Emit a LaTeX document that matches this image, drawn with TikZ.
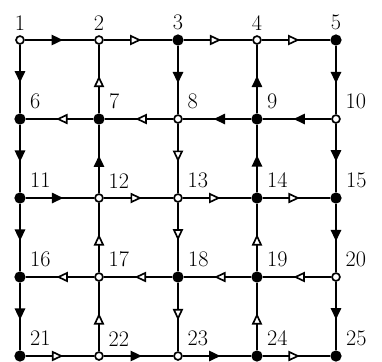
\documentclass[tikz,border=0pt]{standalone}
\usetikzlibrary{arrows.meta,decorations.markings}
\tikzset{
  blackdot/.style={circle, draw=black, fill=black, line width=1.2pt, inner sep=0pt, minimum size=2.4mm},
  whitedot/.style={blackdot, fill=white, minimum size=2mm},
  num/.style={font=\fontsize{16}{18}\selectfont},
  full/.style={line width=1.5pt, postaction={decorate}, decoration={markings, mark=at position 0.55 with {\arrow{Triangle[length=2.9mm,width=2.6mm]}}}},
  hollow/.style={line width=1.5pt, postaction={decorate}, decoration={markings, mark=at position 0.55 with {\arrow{Triangle[open,fill=white,line width=1.2pt,length=2.9mm,width=2.6mm]}}}}
}
\begin{document}
\begin{tikzpicture}
\useasboundingbox (-0.506,1.013) rectangle (9.165,-8.127);
% top row, numbers above
\node[whitedot, label={[num]above:1}] (n1) at (0,0) {};
\node[whitedot, label={[num]above:2}] (n2) at (2,0) {};
\node[blackdot, label={[num]above:3}] (n3) at (4,0) {};
\node[whitedot, label={[num]above:4}] (n4) at (6,0) {};
\node[blackdot, label={[num]above:5}] (n5) at (8,0) {};
% other rows, numbers above right
\node[blackdot, label={[num,label distance=0.5mm]above right:6}] (n6) at (0,-2) {};
\node[blackdot, label={[num,label distance=0.5mm]above right:7}] (n7) at (2,-2) {};
\node[whitedot, label={[num,label distance=0.5mm]above right:8}] (n8) at (4,-2) {};
\node[blackdot, label={[num,label distance=0.5mm]above right:9}] (n9) at (6,-2) {};
\node[whitedot, label={[num,label distance=0.5mm]above right:10}] (n10) at (8,-2) {};
\node[blackdot, label={[num,label distance=0.5mm]above right:11}] (n11) at (0,-4) {};
\node[whitedot, label={[num,label distance=0.5mm]above right:12}] (n12) at (2,-4) {};
\node[whitedot, label={[num,label distance=0.5mm]above right:13}] (n13) at (4,-4) {};
\node[blackdot, label={[num,label distance=0.5mm]above right:14}] (n14) at (6,-4) {};
\node[blackdot, label={[num,label distance=0.5mm]above right:15}] (n15) at (8,-4) {};
\node[blackdot, label={[num,label distance=0.5mm]above right:16}] (n16) at (0,-6) {};
\node[whitedot, label={[num,label distance=0.5mm]above right:17}] (n17) at (2,-6) {};
\node[blackdot, label={[num,label distance=0.5mm]above right:18}] (n18) at (4,-6) {};
\node[blackdot, label={[num,label distance=0.5mm]above right:19}] (n19) at (6,-6) {};
\node[whitedot, label={[num,label distance=0.5mm]above right:20}] (n20) at (8,-6) {};
\node[blackdot, label={[num,label distance=0.5mm]above right:21}] (n21) at (0,-8) {};
\node[whitedot, label={[num,label distance=0.5mm]above right:22}] (n22) at (2,-8) {};
\node[whitedot, label={[num,label distance=0.5mm]above right:23}] (n23) at (4,-8) {};
\node[blackdot, label={[num,label distance=0.5mm]above right:24}] (n24) at (6,-8) {};
\node[blackdot, label={[num,label distance=0.5mm]above right:25}] (n25) at (8,-8) {};
% rows
\draw[full] (n1)--(n2); \draw[hollow] (n2)--(n3); \draw[hollow] (n3)--(n4); \draw[hollow] (n4)--(n5);
\draw[full] (n10)--(n9); \draw[full] (n9)--(n8); \draw[hollow] (n8)--(n7); \draw[hollow] (n7)--(n6);
\draw[full] (n11)--(n12); \draw[hollow] (n12)--(n13); \draw[hollow] (n13)--(n14); \draw[hollow] (n14)--(n15);
\draw[hollow] (n20)--(n19); \draw[hollow] (n19)--(n18); \draw[hollow] (n18)--(n17); \draw[hollow] (n17)--(n16);
\draw[hollow] (n21)--(n22); \draw[full] (n22)--(n23); \draw[full] (n23)--(n24); \draw[hollow] (n24)--(n25);
% columns
\draw[full] (n1)--(n6); \draw[full] (n6)--(n11); \draw[full] (n11)--(n16); \draw[full] (n16)--(n21);
\draw[hollow] (n22)--(n17); \draw[hollow] (n17)--(n12); \draw[full] (n12)--(n7); \draw[hollow] (n7)--(n2);
\draw[full] (n3)--(n8); \draw[hollow] (n8)--(n13); \draw[hollow] (n13)--(n18); \draw[hollow] (n18)--(n23);
\draw[hollow] (n24)--(n19); \draw[hollow] (n19)--(n14); \draw[full] (n14)--(n9); \draw[full] (n9)--(n4);
\draw[full] (n5)--(n10); \draw[full] (n10)--(n15); \draw[full] (n15)--(n20); \draw[full] (n20)--(n25);
\end{tikzpicture}
\end{document}
